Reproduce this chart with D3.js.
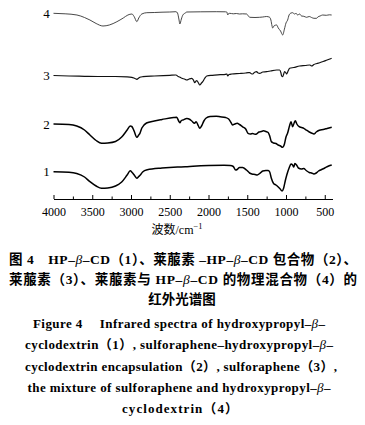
<!DOCTYPE html>
<html><head><meta charset="utf-8">
<script src="https://cdn.jsdelivr.net/npm/d3@7/dist/d3.min.js"></script>
<style>
html,body{margin:0;padding:0;background:#fff;}
svg{display:block;}
</style></head>
<body><svg id="c" width="365" height="425"></svg>
<script>
// ---- data (wavenumber cm^-1, relative transmittance a.u., curves stacked) ----
const curveLabels = ["1", "2", "3", "4"];
const xTicks = [4000, 3500, 3000, 2500, 2000, 1500, 1000, 500];
const xMinorTicks = [3750, 3250, 2750, 2250, 1750, 1250, 750];

const wn1 = [4000,3800,3700,3600,3530,3450,3380,3300,3200,3120,3050,3010,2985,2950,2925,2900,2880,2850,2790,2600,2400,2300,2200,2000,1800,1720,1680,1650,1630,1600,1560,1510,1470,1440,1400,1370,1340,1300,1260,1230,1210,1190,1160,1130,1100,1080,1050,1030,1010,990,960,935,915,900,885,860,840,800,770,740,700,670,640,610,580,540,500,450,410];
const t1 = [28.3,27.8,26.5,23,18.3,14,11.7,12,14,18,25,29.2,27.5,24,21.7,23.5,25,28,30.2,32,33,33.2,33.7,34.4,34.7,34.5,33.5,30,30.5,32.5,32.5,30,27,26,25.5,25,26.5,29,29.5,29.5,28,22,16.5,15,13,11.5,9,12,19,25,32,36,35,33,36.5,34.5,32,31,31.5,29.5,27.5,27,26,27,29,30.5,32,34,35];

const wn2 = [4000,3800,3700,3600,3530,3450,3380,3300,3200,3120,3050,3010,2990,2960,2925,2900,2885,2860,2800,2700,2600,2450,2410,2385,2370,2350,2331,2280,2240,2216,2180,2160,2130,2113,2090,2060,2030,1980,1900,1850,1780,1740,1710,1690,1660,1630,1600,1560,1520,1490,1460,1430,1400,1380,1350,1320,1290,1260,1230,1210,1190,1160,1130,1100,1070,1045,1020,1000,980,955,935,915,895,880,860,830,800,770,740,700,670,640,610,570,520,470,410];
const t2 = [76,75.5,74,70,65,59.5,56.7,57,58.5,63,70,74,73.5,69,62.7,65,66.7,72,77,79,80.5,82.5,82.7,79,77.3,79.5,80,81.5,80.5,79,76.7,78.3,74,71.7,74,79,82,83.5,83.8,83.3,82.5,81,77.5,75,76,76.7,75.5,73.2,71,66.7,66,66.5,65.7,66,68,68.5,69.2,68.5,67.5,64,58.5,57,56.5,55,54,52.7,56,63,66.7,74,78.3,73.3,77,79.3,76,73.3,72.5,71.7,70,68,67,66,68,69.7,70.5,71.5,72.7];

const wn3 = [4000,3800,3600,3400,3200,3050,2990,2950,2924,2900,2886,2847,2700,2500,2420,2390,2360,2344,2310,2280,2250,2216,2195,2177,2160,2151,2130,2113,2090,2074,2050,2023,1950,1850,1780,1764,1751,1735,1700,1600,1520,1490,1468,1440,1430,1400,1378,1360,1340,1300,1249,1200,1120,1082,1065,1056,1043,1030,1018,1000,992,970,953,900,824,750,695,680,669,640,600,566,520,470,411];
const t3 = [124.5,124,123.7,123.5,123.5,123.2,122.7,121.5,120.7,122,122.7,123.3,124,124.7,125,123.5,122.5,121.7,121,120,121,121.7,120,117.3,119,119.3,117,115,117,118.3,121.5,124,124.7,125.3,125.7,126,124,125.5,126,126.5,127,127.3,127.3,126,126,128,128.3,127,126.7,128,128.3,129,130,130,127,124,123.3,126,128.3,127,126,129.5,131.7,132.5,134,134.5,135,134.5,134,135.5,136.5,137.3,138.5,140,141.7];

const wn4 = [4000,3850,3697,3600,3530,3450,3362,3280,3182,3100,3040,2988,2960,2924,2900,2861,2796,2700,2600,2500,2420,2400,2380,2370,2350,2331,2300,2280,2100,1900,1780,1764,1751,1740,1726,1680,1640,1600,1560,1507,1490,1468,1400,1340,1300,1250,1211,1195,1180,1172,1150,1120,1100,1070,1043,1020,1000,979,960,935,914,890,870,850,824,800,770,734,700,670,640,605,590,560,527,480,440,411];
const t4 = [186.7,186.2,185,182.5,180,176.5,174,175,178.3,182,185,186,183.5,178.3,182,186,187.3,187.5,187.8,188,188.3,187,180,176,181,185,187,188,188.2,188.3,188.2,188,185,186.5,186.7,186.2,186.5,186,186.2,186,184.5,182.7,182.5,182.7,183,183.5,182.7,180,174,172,174.5,175,172,169,165,171,177,180,185,187,187.3,186,186.7,185,186,184,183.7,182.7,183.5,182.5,181.7,181.7,183,184,185,184.7,185.2,185];

// ---- drawing ----
const svg = d3.select("#c");
svg.append("rect").attr("width",365).attr("height",425).attr("fill","#fff");

const x = d3.scaleLinear().domain([4000, 400]).range([53.5, 332.5]);
const y = d3.scaleLinear().domain([0, 200]).range([200, 0]);
const axisY = 199;

const series = [
  {wn: wn1, t: t1, w: 1.5, c: "#000"},
  {wn: wn2, t: t2, w: 1.5, c: "#000"},
  {wn: wn3, t: t3, w: 1.2, c: "#111"},
  {wn: wn4, t: t4, w: 0.9, c: "#333"}
];

const line = d3.line().x(d => x(d[0])).y(d => y(d[1])).curve(d3.curveMonotoneX);
series.forEach((s, i) => {
  const pts = s.wn.map((w, k) => [w, s.t[k]]);
  svg.append("path").attr("d", line(pts)).attr("fill", "none")
    .attr("stroke", s.c).attr("stroke-width", s.w).attr("stroke-linejoin", "round");
  svg.append("text").attr("x", x(4000) - 7).attr("y", y(s.t[0]) + 4.5)
    .attr("text-anchor", "middle").attr("font-family", "Liberation Serif")
    .attr("font-size", 13).attr("fill", "#000").text(curveLabels[i]);
});

// axis
const gx = svg.append("g").attr("transform", `translate(0,${axisY})`)
  .call(d3.axisBottom(x).tickValues(xTicks).tickSizeInner(-4).tickSizeOuter(0).tickPadding(8).tickFormat(d3.format("d")));
gx.select(".domain").attr("stroke", "#000").attr("stroke-width", 1.2);
gx.selectAll(".tick line").attr("stroke", "#000").attr("stroke-width", 1);
gx.selectAll(".tick text").attr("font-family", "Liberation Serif").attr("font-size", 12).attr("fill", "#000");
const gm = svg.append("g").attr("transform", `translate(0,${axisY})`)
  .call(d3.axisBottom(x).tickValues(xMinorTicks).tickSizeInner(-2.5).tickSizeOuter(0).tickFormat(""));
gm.select(".domain").remove();
gm.selectAll(".tick line").attr("stroke", "#000").attr("stroke-width", 1);

// axis title
const at = svg.append("text").attr("x", 177).attr("y", 233.5).attr("text-anchor", "middle")
  .attr("font-size", 12).attr("fill", "#000");
at.append("tspan").attr("font-family", "Noto Sans CJK SC").text("波数");
at.append("tspan").attr("font-family", "Liberation Serif").text("/cm");
at.append("tspan").attr("font-family", "Liberation Serif").attr("font-size", 8.5).attr("dy", -5).text("−1");

// captions
function richLine(parts, xPos, yPos, anchor, len, size) {
  const t = svg.append("text").attr("x", xPos).attr("y", yPos).attr("text-anchor", anchor)
    .attr("font-family", "Liberation Serif, 'Noto Sans CJK SC'").attr("font-weight", "bold")
    .attr("font-size", size).attr("fill", "#000");
  if (len) t.attr("textLength", len).attr("lengthAdjust", "spacing");
  parts.forEach(p => {
    const ts = t.append("tspan").text(p[0]);
    if (p[1]) ts.attr("font-style", "italic").attr("font-weight", "normal");
  });
}
richLine([["图 4　HP–"],["β",1],["–CD（1）、莱菔素 –HP–"],["β",1],["–CD 包合物（2）、"]], 9, 264, "start", 348, 13.5);
richLine([["莱菔素（3）、莱菔素与 HP–"],["β",1],["–CD 的物理混合物（4）的"]], 9, 284, "start", 348, 13.5);
richLine([["红外光谱图"]], 182, 304, "middle", null, 13.5);
richLine([["Figure 4　 Infrared spectra of hydroxypropyl–"],["β",1],["–"]], 179, 327.5, "middle", 292, 13);
richLine([["cyclodextrin（1）,  sulforaphene–hydroxypropyl–"],["β",1],["–"]], 179, 349, "middle", 308, 13);
richLine([["cyclodextrin encapsulation（2）,  sulforaphene（3）,"]], 181, 371, "middle", 312, 13);
richLine([["the mixture of sulforaphene and hydroxypropyl–"],["β",1],["–"]], 179, 392, "middle", 303, 13);
richLine([["cyclodextrin（4）"]], 180, 412.5, "middle", 116, 13);
</script></body></html>
